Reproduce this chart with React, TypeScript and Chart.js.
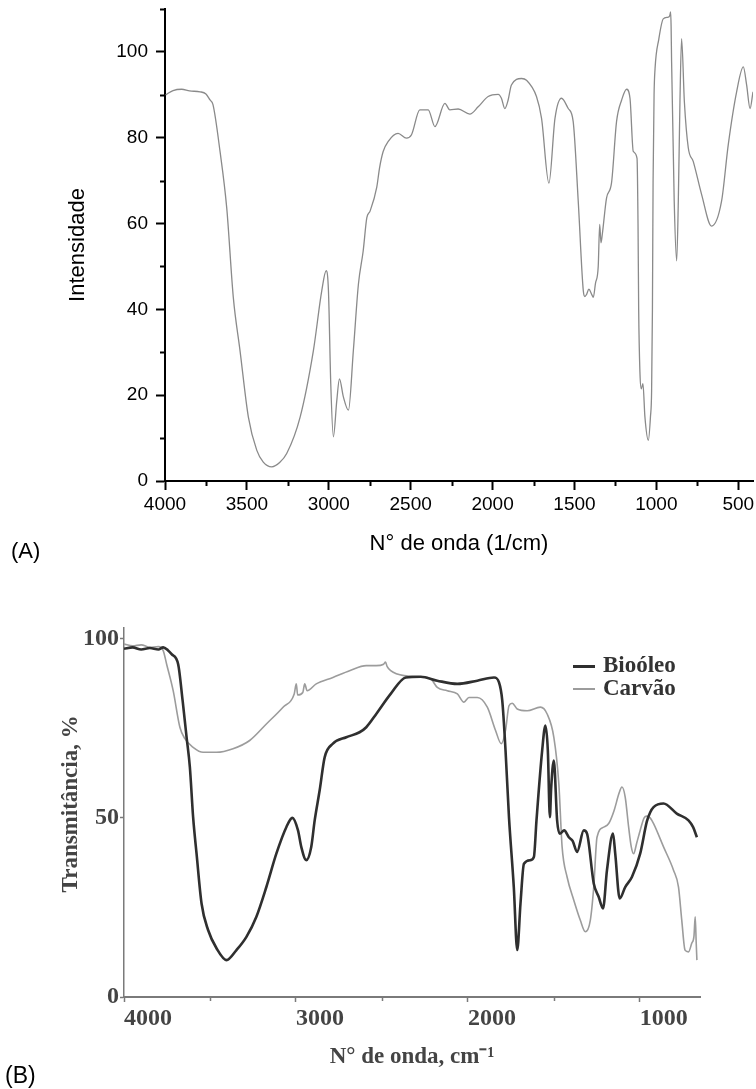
import React, { useEffect, useRef } from 'react';
import { Chart, registerables } from 'chart.js';

Chart.register(...registerables);

// ---------- Chart (A): FTIR spectrum, intensity ----------
const waveA = [
  3996, 3951, 3898, 3850, 3786, 3750, 3725, 3707, 3664, 3623,
  3583, 3542, 3491, 3440, 3400, 3348, 3300, 3257, 3175, 3094,
  3043, 3016, 3002, 2988, 2972, 2951, 2935, 2911, 2880, 2850,
  2819, 2790, 2768, 2748, 2707, 2690, 2668, 2638, 2577, 2526,
  2495, 2444, 2393, 2352, 2291, 2261, 2210, 2139, 2088, 2027,
  1966, 1946, 1925, 1905, 1885, 1823, 1793, 1732, 1701, 1656,
  1619, 1579, 1538, 1508, 1477, 1446, 1436, 1426, 1412, 1395,
  1385, 1372, 1355, 1346, 1338, 1330, 1304, 1274, 1243, 1212,
  1182, 1161, 1141, 1118, 1112, 1108, 1100, 1092, 1082, 1070,
  1049, 1036, 1029, 1024, 1020, 1014, 1008, 985, 958, 927,
  918, 913, 910, 907, 891, 876, 866, 856, 846, 829,
  805, 775, 724, 663, 602, 561, 510, 469, 449, 428,
  410,
];
const intensityA = [
  90.0, 91.0, 91.3, 90.9, 90.7, 90.2, 88.8, 87.7, 76.8, 63.6,
  42.8, 30.4, 14.9, 7.2, 4.4, 3.3, 4.3, 6.4, 14.9, 30.4,
  44.3, 49.0, 44.3, 22.7, 10.3, 18.8, 23.8, 19.6, 16.5, 30.4,
  45.9, 53.6, 61.3, 62.9, 68.5, 73.0, 76.8, 79.1, 81.0, 79.9,
  80.7, 86.5, 86.5, 82.6, 88.0, 86.5, 86.7, 85.5, 87.2, 89.6,
  90.1, 89.2, 86.8, 88.8, 92.3, 93.8, 93.4, 89.6, 84.5, 69.4,
  84.5, 89.2, 86.8, 83.8, 65.2, 44.3, 43.0, 43.5, 44.7, 43.5,
  42.8, 46.0, 50.0, 59.8, 55.5, 57.5, 66.0, 69.4, 83.8, 88.8,
  91.3, 89.2, 76.8, 75.2, 60.0, 40.0, 25.0, 21.5, 22.7, 15.0,
  9.5, 15.0, 21.1, 40.0, 70.0, 90.0, 96.1, 103.0, 107.7, 108.1,
  108.5, 109.3, 106.0, 97.7, 65.2, 51.3, 65.2, 88.4, 103.1, 88.4,
  77.6, 74.5, 66.8, 59.4, 65.2, 78.4, 90.7, 96.5, 92.3, 86.8,
  90.7,
];
const ticksAX = [4000, 3500, 3000, 2500, 2000, 1500, 1000, 500];
const ticksAY = [0, 20, 40, 60, 80, 100];
const minorTicksAX = [3750, 3250, 2750, 2250, 1750, 1250, 750];
const minorTicksAY = [10, 30, 50, 70, 90, 110];

// ---------- Chart (B): Bio-óleo vs Carvão transmittance ----------
const waveBio = [
  4000, 3950, 3900, 3850, 3800, 3772, 3745, 3723, 3685, 3659,
  3636, 3617, 3598, 3578, 3549, 3511, 3462, 3404, 3346, 3288,
  3230, 3172, 3114, 3056, 3021, 2988, 2969, 2940, 2911, 2891,
  2862, 2833, 2785, 2707, 2630, 2591, 2533, 2449, 2361, 2274,
  2178, 2061, 1945, 1848, 1819, 1800, 1781, 1761, 1733, 1713,
  1694, 1674, 1636, 1616, 1601, 1568, 1549, 1535, 1523, 1516,
  1500, 1481, 1466, 1440, 1413, 1390, 1365, 1326, 1307, 1268,
  1239, 1214, 1191, 1156, 1143, 1117, 1085, 1046, 998, 959,
  940, 920, 862, 785, 717, 690, 668,
];
const bioOleo = [
  97.2, 97.6, 97.0, 97.4, 97.0, 97.6, 96.8, 95.7, 92.9, 82.7,
  72.5, 64.2, 50.2, 40.0, 26.1, 18.7, 13.6, 10.3, 13.1, 16.8,
  22.4, 30.7, 40.0, 47.4, 50.0, 46.5, 41.9, 38.2, 41.9, 49.3,
  57.7, 66.9, 70.7, 72.5, 73.9, 75.3, 79.0, 84.6, 89.2, 89.4,
  88.3, 87.4, 88.3, 89.2, 87.8, 82.7, 68.8, 50.2, 30.7, 13.1,
  26.1, 37.2, 38.2, 39.1, 49.3, 68.8, 75.8, 68.8, 50.2, 58.0,
  66.0, 49.3, 45.6, 46.5, 44.6, 43.5, 40.5, 46.5, 45.6, 31.7,
  27.9, 24.7, 35.4, 45.6, 40.0, 27.5, 30.7, 33.5, 40.0, 49.0,
  51.5, 53.0, 54.0, 51.2, 49.3, 47.4, 44.6,
];
const waveCarv = [
  4000, 3950, 3900, 3850, 3800, 3772, 3752, 3714, 3675, 3646,
  3598, 3540, 3462, 3366, 3269, 3172, 3075, 3010, 2998, 2990,
  2960, 2949, 2935, 2882, 2785, 2688, 2591, 2533, 2490, 2479,
  2470, 2449, 2371, 2274, 2216, 2178, 2120, 2061, 2023, 1994,
  1945, 1887, 1839, 1806, 1781, 1761, 1742, 1713, 1655, 1578,
  1539, 1500, 1471, 1452, 1423, 1384, 1346, 1317, 1288, 1268,
  1249, 1210, 1180, 1150, 1120, 1104, 1085, 1065, 1050, 1036,
  1018, 998, 975, 959, 940, 920, 862, 804, 775, 756,
  737, 717, 698, 685, 678, 672, 668,
];
const carvao = [
  98.5, 98.0, 98.3, 97.6, 97.8, 96.7, 92.9, 85.5, 75.3, 72.1,
  69.7, 68.3, 68.3, 69.3, 71.6, 76.2, 80.9, 84.6, 87.4, 84.3,
  85.0, 87.4, 85.5, 87.4, 89.2, 91.1, 92.5, 92.5, 92.9, 93.5,
  92.3, 91.1, 89.7, 89.4, 88.8, 86.4, 85.5, 84.6, 82.3, 83.6,
  83.6, 80.9, 74.4, 70.7, 74.4, 81.3, 82.0, 80.4, 79.9, 80.9,
  79.0, 72.5, 59.5, 41.9, 33.5, 27.0, 21.4, 18.2, 21.4, 30.7,
  44.6, 47.4, 48.5, 52.0, 57.0, 58.6, 55.8, 47.4, 42.0, 40.0,
  43.0, 46.5, 50.0, 50.5, 50.0, 48.4, 41.9, 35.4, 30.7, 21.4,
  13.1, 12.6, 15.0, 17.0, 22.4, 15.0, 10.3,
];
const ticksBX = [4000, 3000, 2000, 1000];
const ticksBY = [0, 50, 100];
const minorTicksBX = [3500, 2500, 1500];
const seriesNamesB = ['Bioóleo', 'Carvão'];
const seriesColorsB = ['#2f2f2f', '#9c9c9c'];

const SANS = '"Liberation Sans", Arial, Helvetica, sans-serif';
const SERIF = '"Liberation Serif", "Times New Roman", Times, serif';

function makeMinorTicks(xVals: number[], yVals: number[], len: number, color: string, width: number) {
  return {
    id: 'minorTicks',
    afterDraw(chart: any) {
      const { ctx, chartArea } = chart;
      const xs = chart.scales.x;
      const ys = chart.scales.y;
      ctx.save();
      ctx.strokeStyle = color;
      ctx.lineWidth = width;
      for (const v of xVals) {
        const px = Math.round(xs.getPixelForValue(v)) + 0.5;
        ctx.beginPath();
        ctx.moveTo(px, chartArea.bottom);
        ctx.lineTo(px, chartArea.bottom + len);
        ctx.stroke();
      }
      for (const v of yVals) {
        const py = Math.round(ys.getPixelForValue(v)) + 0.5;
        ctx.beginPath();
        ctx.moveTo(chartArea.left, py);
        ctx.lineTo(chartArea.left - len, py);
        ctx.stroke();
      }
      ctx.restore();
    },
  };
}

const setTicks = (vals: number[]) => (s: any) => {
  s.ticks = vals.map((value) => ({ value }));
};
const fixX = (h: number) => (s: any) => {
  s.height = h;
  s.paddingLeft = 0;
  s.paddingRight = 0;
  s.paddingTop = 0;
  s.paddingBottom = 0;
};
const fixY = (w: number) => (s: any) => {
  s.width = w;
  s.paddingLeft = 0;
  s.paddingRight = 0;
  s.paddingTop = 0;
  s.paddingBottom = 0;
};
const plainLabel = (v: any) => String(v);

function ChartA() {
  const ref = useRef<HTMLCanvasElement>(null);
  useEffect(() => {
    const chart = new Chart(ref.current as HTMLCanvasElement, {
      type: 'line',
      data: {
        datasets: [
          {
            label: 'Intensidade',
            data: waveA.map((x, i) => ({ x, y: intensityA[i] })),
            borderColor: '#8a8a8a',
            borderWidth: 1.3,
            pointRadius: 0,
            cubicInterpolationMode: 'monotone',
          },
        ],
      },
      options: {
        responsive: false,
        animation: false,
        layout: { autoPadding: false, padding: { left: 0, top: 9, right: 3, bottom: 0 } },
        plugins: { legend: { display: false }, tooltip: { enabled: false } },
        scales: {
          x: {
            type: 'linear',
            reverse: true,
            min: 410,
            max: 4000,
            bounds: 'data',
            afterBuildTicks: setTicks(ticksAX),
            afterFit: fixX(89),
            border: { display: true, color: '#000', width: 2 },
            grid: { display: true, drawOnChartArea: false, drawTicks: true, tickLength: 9, tickColor: '#000', tickWidth: 2 },
            ticks: { autoSkip: false, maxRotation: 0, padding: 3, color: '#000', callback: plainLabel, font: { family: SANS, size: 19 } },
            title: { display: true, text: 'N° de onda (1/cm)', color: '#000', font: { family: SANS, size: 22 }, padding: { top: 0, bottom: 13 } },
          },
          y: {
            type: 'linear',
            min: 0,
            max: 110,
            bounds: 'data',
            afterBuildTicks: setTicks(ticksAY),
            afterFit: fixY(165),
            border: { display: true, color: '#000', width: 2 },
            grid: { display: true, drawOnChartArea: false, drawTicks: true, tickLength: 9, tickColor: '#000', tickWidth: 2 },
            ticks: { autoSkip: false, padding: 8, color: '#000', callback: plainLabel, font: { family: SANS, size: 19 } },
            title: { display: true, text: 'Intensidade', color: '#000', font: { family: SANS, size: 22 }, padding: { top: 65, bottom: 0 } },
          },
        },
      } as any,
      plugins: [makeMinorTicks(minorTicksAX, minorTicksAY, 5, '#000', 2)],
    });
    return () => chart.destroy();
  }, []);
  return <canvas ref={ref} width={756} height={570} style={{ position: 'absolute', left: 0, top: 0 }} />;
}

function ChartB() {
  const ref = useRef<HTMLCanvasElement>(null);
  useEffect(() => {
    const chart = new Chart(ref.current as HTMLCanvasElement, {
      type: 'line',
      data: {
        datasets: [
          {
            label: seriesNamesB[0],
            data: waveBio.map((x, i) => ({ x, y: bioOleo[i] })),
            borderColor: seriesColorsB[0],
            borderWidth: 2.6,
            pointRadius: 0,
            cubicInterpolationMode: 'monotone',
          },
          {
            label: seriesNamesB[1],
            data: waveCarv.map((x, i) => ({ x, y: carvao[i] })),
            borderColor: seriesColorsB[1],
            borderWidth: 1.6,
            pointRadius: 0,
            cubicInterpolationMode: 'monotone',
          },
        ],
      },
      options: {
        responsive: false,
        animation: false,
        layout: { autoPadding: false, padding: { left: 0, top: 58, right: 56, bottom: 0 } },
        plugins: { legend: { display: false }, tooltip: { enabled: false } },
        scales: {
          x: {
            type: 'linear',
            reverse: true,
            min: 650,
            max: 4000,
            bounds: 'data',
            afterBuildTicks: setTicks(ticksBX),
            afterFit: fixX(92),
            border: { display: true, color: '#7a7a7a', width: 2 },
            grid: { display: true, drawOnChartArea: false, drawTicks: true, tickLength: 5, tickColor: '#7a7a7a', tickWidth: 1.5 },
            ticks: { autoSkip: false, maxRotation: 0, align: 'start', padding: 2, color: '#444', callback: plainLabel, font: { family: SERIF, size: 24, weight: 'bold' } },
            title: { display: true, text: 'N° de onda, cm⁻¹', color: '#444', font: { family: SERIF, size: 23, weight: 'bold' }, padding: { top: 0, bottom: 18 } },
          },
          y: {
            type: 'linear',
            min: 0,
            max: 103,
            bounds: 'data',
            afterBuildTicks: setTicks(ticksBY),
            afterFit: fixY(124),
            border: { display: true, color: '#7a7a7a', width: 1.5 },
            grid: { display: true, drawOnChartArea: false, drawTicks: true, tickLength: 4, tickColor: '#7a7a7a', tickWidth: 1.5 },
            ticks: { autoSkip: false, padding: 1, color: '#444', callback: plainLabel, font: { family: SERIF, size: 24, weight: 'bold' } },
            title: { display: true, text: '   Transmitância, %', color: '#444', font: { family: SERIF, size: 23, weight: 'bold' }, padding: { top: 57, bottom: 0 } },
          },
        },
      } as any,
      plugins: [makeMinorTicks(minorTicksBX, [], 4, '#7a7a7a', 1.5)],
    });
    return () => chart.destroy();
  }, []);
  return <canvas ref={ref} width={756} height={519} style={{ position: 'absolute', left: 0, top: 570 }} />;
}

function LegendB() {
  const rows = [
    { top: 666, thick: 3 },
    { top: 689, thick: 1.6 },
  ];
  return (
    <>
      {seriesNamesB.map((name, i) => (
        <React.Fragment key={name}>
          <div
            style={{
              position: 'absolute',
              left: 573,
              top: rows[i].top - rows[i].thick / 2,
              width: 22,
              height: rows[i].thick,
              background: seriesColorsB[i],
            }}
          />
          <div
            style={{
              position: 'absolute',
              left: 603,
              top: rows[i].top - 14,
              height: 28,
              lineHeight: '28px',
              font: `bold 23px ${SERIF}`,
              color: '#333',
              whiteSpace: 'nowrap',
            }}
          >
            {name}
          </div>
        </React.Fragment>
      ))}
    </>
  );
}

export default function App() {
  return (
    <div style={{ position: 'absolute', left: 0, top: 0, width: 756, height: 1089, background: '#fff', overflow: 'hidden' }}>
      <ChartA />
      <div style={{ position: 'absolute', left: 11, top: 538, font: `22px ${SANS}`, lineHeight: '26px', color: '#000' }}>(A)</div>
      <ChartB />
      <LegendB />
      <div style={{ position: 'absolute', left: 5, top: 1062, font: `23px ${SANS}`, lineHeight: '27px', color: '#000' }}>(B)</div>
    </div>
  );
}
